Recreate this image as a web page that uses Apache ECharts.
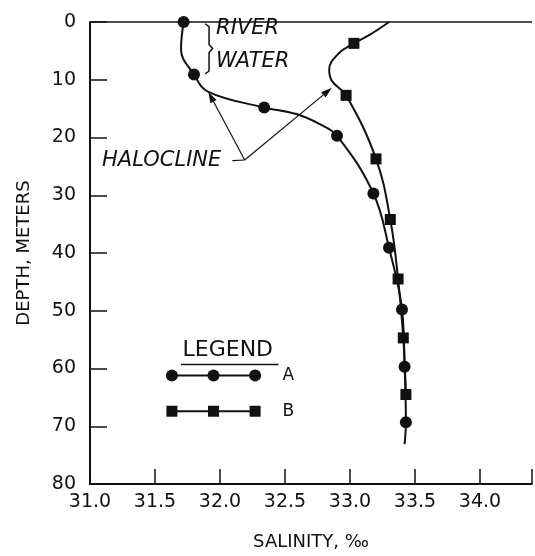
<!DOCTYPE html>
<html>
<head>
<meta charset="utf-8">
<script src="https://cdn.jsdelivr.net/npm/echarts@6/dist/echarts.min.js"></script>
<style>
  html, body { margin: 0; padding: 0; background: #fff; }
  #chart { width: 535px; height: 556px; }
</style>
</head>
<body>
<div id="chart"></div>
<script>
// salinity (per mille) vs depth (m); 0 in mark = curve point without a symbol
const salinityA = [31.72, 31.70, 31.80, 31.91, 32.34, 32.58, 32.76, 32.90, 33.18, 33.30, 33.40, 33.42, 33.43, 33.42];
const depthA    = [0,     4.7,   9.1,   12.1,  14.8,  15.9,  17.6,  19.7,  29.7,  39.1,  49.8,  59.7,  69.3,  73.1];
const markA     = [1,     0,     1,     0,     1,     0,     0,     1,     1,     1,     1,     1,     1,     0];

const salinityB = [33.30, 33.16, 33.03, 32.91, 32.84, 32.86, 32.97, 33.20, 33.31, 33.37, 33.41, 33.43];
const depthB    = [0,     2.1,   3.7,   5.5,   8.2,   10.2,  12.7,  23.7,  34.2,  44.5,  54.7,  64.5];
const markB     = [0,     0,     1,     0,     0,     0,     1,     1,     1,     1,     1,     1];

const xTicks = [31.0, 31.5, 32.0, 32.5, 33.0, 33.5, 34.0];
const yTicks = [0, 10, 20, 30, 40, 50, 60, 70, 80];

const INK = '#111';
const FONT = "'DejaVu Sans', sans-serif";

function toData(xs, ys, marks) {
  return xs.map((x, i) => (marks[i] ? [x, ys[i]] : { value: [x, ys[i]], symbol: 'none' }));
}

const chart = echarts.init(document.getElementById('chart'));

const option = {
  animation: false,
  backgroundColor: '#fff',
  grid: { left: 90, top: 22, width: 449, height: 465 },
  xAxis: {
    type: 'value',
    min: xTicks[0],
    max: 34.4,
    interval: 0.5,
    name: 'SALINITY, ‰',
    nameLocation: 'middle',
    nameGap: 49,
    nameTextStyle: { color: INK, fontFamily: FONT, fontSize: 18 },
    axisLine: { onZero: false, lineStyle: { color: INK, width: 2 } },
    axisTick: { inside: true, length: 15, lineStyle: { color: INK, width: 1.5 } },
    axisLabel: {
      color: INK, fontFamily: FONT, fontSize: 19, margin: 9,
      formatter: (v) => (v <= 34.0 ? v.toFixed(1) : '')
    },
    splitLine: { show: false }
  },
  yAxis: {
    type: 'value',
    inverse: true,
    min: yTicks[0],
    max: yTicks[yTicks.length - 1],
    interval: 10,
    name: 'DEPTH, METERS',
    nameLocation: 'middle',
    nameGap: 57,
    nameTextStyle: { color: INK, fontFamily: FONT, fontSize: 18 },
    axisLine: { onZero: false, lineStyle: { color: INK, width: 2 } },
    axisTick: { inside: true, length: 17, lineStyle: { color: INK, width: 1.5 } },
    axisLabel: { color: INK, fontFamily: FONT, fontSize: 19, margin: 14 },
    splitLine: { show: false }
  },
  series: [
    {
      name: 'A',
      type: 'line',
      smooth: 0.4,
      data: toData(salinityA, depthA, markA),
      symbol: 'circle',
      symbolSize: 12,
      lineStyle: { color: INK, width: 2 },
      itemStyle: { color: INK }
    },
    {
      name: 'B',
      type: 'line',
      smooth: 0.4,
      data: toData(salinityB, depthB, markB),
      symbol: 'rect',
      symbolSize: 11,
      lineStyle: { color: INK, width: 2 },
      itemStyle: { color: INK }
    }
  ]
};

chart.setOption(option);

// annotations placed in data coordinates
const px = (s, d) => chart.convertToPixel({ gridIndex: 0 }, [s, d]);

function arrow(from, to) {
  const a = px(from[0], from[1]);
  const b = px(to[0], to[1]);
  const ang = Math.atan2(b[1] - a[1], b[0] - a[0]);
  const len = 11, half = 3.5;
  const base = [b[0] - len * Math.cos(ang), b[1] - len * Math.sin(ang)];
  const nx = -Math.sin(ang), ny = Math.cos(ang);
  return [
    { type: 'line', shape: { x1: a[0], y1: a[1], x2: base[0], y2: base[1] }, style: { stroke: INK, lineWidth: 1.2 } },
    {
      type: 'polygon',
      shape: { points: [b, [base[0] + nx * half, base[1] + ny * half], [base[0] - nx * half, base[1] - ny * half]] },
      style: { fill: INK }
    }
  ];
}

const junction = [32.19, 23.9];
const tip1 = [31.91, 12.1];
const tip2 = [32.86, 11.4];

const b0 = px(31.885, 0.3), bm = px(31.92, 4.6), b1 = px(31.885, 9.0);
const brace = {
  type: 'polyline',
  shape: {
    points: [
      [b0[0], b0[1]], [b0[0] + 4, b0[1] + 3], [b0[0] + 4, bm[1] - 4], [bm[0] + 3, bm[1]],
      [b0[0] + 4, bm[1] + 4], [b1[0] + 4, b1[1] - 3], [b1[0], b1[1]]
    ]
  },
  style: { stroke: INK, lineWidth: 1.5, fill: null }
};

const italic = { fill: INK, fontFamily: FONT, fontStyle: 'italic' };
const upright = { fill: INK, fontFamily: FONT };

const top0 = px(31.0, 0), top1 = px(34.4, 0);
const river = px(31.97, 1.2), water = px(31.97, 6.9);
const halo = px(32.01, 24.0);
const tailA = px(32.095, 24.0);
const jn = px(junction[0], junction[1]);
const legTitle = px(32.06, 56.9);
const ul0 = px(31.70, 59.3), ul1 = px(32.45, 59.3);
const legendX = [31.63, 31.95, 32.27];
const rowA = 61.2, rowB = 67.4;
const labelX = 32.48;

const graphics = [
  { type: 'line', shape: { x1: top0[0], y1: top0[1], x2: top1[0], y2: top1[1] }, style: { stroke: INK, lineWidth: 1.5 } },
  brace,
  { type: 'text', style: Object.assign({ text: 'RIVER', x: river[0], y: river[1], fontSize: 21, verticalAlign: 'middle' }, italic) },
  { type: 'text', style: Object.assign({ text: 'WATER', x: water[0], y: water[1], fontSize: 21, verticalAlign: 'middle' }, italic) },
  { type: 'text', style: Object.assign({ text: 'HALOCLINE', x: halo[0], y: halo[1], fontSize: 21, align: 'right', verticalAlign: 'middle' }, italic) },
  { type: 'line', shape: { x1: tailA[0], y1: tailA[1], x2: jn[0], y2: jn[1] }, style: { stroke: INK, lineWidth: 1.2 } },
  ...arrow(junction, tip1),
  ...arrow(junction, tip2),
  { type: 'text', style: Object.assign({ text: 'LEGEND', x: legTitle[0], y: legTitle[1], fontSize: 22, align: 'center', verticalAlign: 'middle' }, upright) },
  { type: 'line', shape: { x1: ul0[0], y1: ul0[1], x2: ul1[0], y2: ul1[1] }, style: { stroke: INK, lineWidth: 1.5 } }
];

[[rowA, 'circle', 'A'], [rowB, 'rect', 'B']].forEach(([d, shape, label]) => {
  const p0 = px(legendX[0], d), p1 = px(legendX[legendX.length - 1], d);
  graphics.push({ type: 'line', shape: { x1: p0[0], y1: p0[1], x2: p1[0], y2: p1[1] }, style: { stroke: INK, lineWidth: 2 } });
  legendX.forEach((s) => {
    const p = px(s, d);
    graphics.push(shape === 'circle'
      ? { type: 'circle', shape: { cx: p[0], cy: p[1], r: 6 }, style: { fill: INK } }
      : { type: 'rect', shape: { x: p[0] - 5.5, y: p[1] - 5.5, width: 11, height: 11 }, style: { fill: INK } });
  });
  const t = px(labelX, d);
  graphics.push({ type: 'text', style: Object.assign({ text: label, x: t[0], y: t[1], fontSize: 17, verticalAlign: 'middle' }, upright) });
});

chart.setOption({ graphic: graphics });
</script>
</body>
</html>
